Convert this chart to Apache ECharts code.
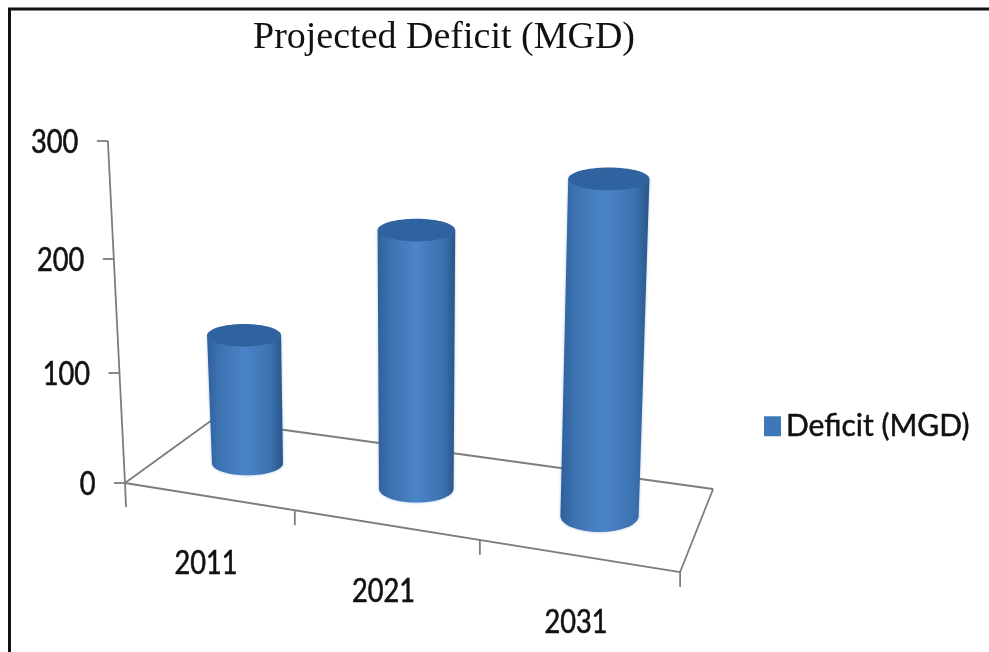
<!DOCTYPE html>
<html><head><meta charset="utf-8">
<style>html,body{margin:0;padding:0;background:#fff}#c{width:989px;height:652px}</style>
<script src="https://cdn.jsdelivr.net/npm/echarts@6/dist/echarts.min.js"></script>
</head><body><div id="c"></div>
<script>
const titleText = 'Projected Deficit (MGD)';
const seriesName = 'Deficit (MGD)';
const categories = ['2011', '2021', '2031'];
const deficit = [110, 205, 250];
const yTicks = [0, 100, 200, 300];

const sans = 'Lato,"Liberation Sans",sans-serif';
const AX = '#7d7d7d', INK = '#111';
const G = {left:125, top:141, width:555, height:342};
// Floor plane of the 3-D box on screen: front-left, front-right, back-left, back-right
const FL=[125,483], FR=[680,572], BL=[212,420], BR=[713,489];

function warp(flat, d, band){
  const u=(flat[0]-G.left)/band, t=0.2923*u+0.0137*u*u;
  const v=(G.top+G.height-flat[1])/G.height*300;
  const fx=FL[0]+(FR[0]-FL[0])*t, fy=FL[1]+(FR[1]-FL[1])*t;
  const bx=BL[0]+(BR[0]-BL[0])*t, by=BL[1]+(BR[1]-BL[1])*t;
  const k=1+2*d*(0.022+0.0685*u);
  const h=(1.08*v+0.0002*v*v)*k;
  const lean=-0.05+0.027*u+0.02*d;
  return [fx+(bx-fx)*d+lean*h, fy+(by-fy)*d-h];
}

function arc(cx,cy,rx,ry,a0,a1){
  const p=[];
  for(let i=0;i<=32;i++){const a=a0+(a1-a0)*i/32;p.push([cx+rx*Math.cos(a),cy+ry*Math.sin(a)]);}
  return p;
}

function label(text,x,y,align){
  return {type:'text',x:x,y:y,scaleX:0.85,
    style:{text:text,x:0,y:0,align:align,verticalAlign:'middle',font:'32px '+sans,fill:INK,stroke:INK,lineWidth:0.6}};
}

function renderFrame(params, api){
  const kind=api.value(0), val=api.value(1);
  const band=api.size([1,0])[0];
  const left=api.coord([0,0])[0]-band/2;
  const P=(u,d,v)=>warp([left+u*band, api.coord([0,v])[1]],d,band);
  const line=(a,b)=>({type:'line',shape:{x1:a[0],y1:a[1],x2:b[0],y2:b[1]},style:{stroke:AX,lineWidth:1.8}});
  const kids=[];
  if(kind===0){ // value tick and its label
    const p=P(0,0,val);
    kids.push(line([p[0]-11,p[1]],p));
    kids.push(label(String(val),p[0]-29.5,p[1]+2,'right'));
    if(val===0){
      const n=categories.length;
      kids.push(line(p,P(0,0,300)));
      kids.push(line(p,P(n,0,0)),line(p,P(0,1,0)),line(P(0,1,0),P(n,1,0)),line(P(n,1,0),P(n,0,0)));
      kids.push(line(p,[p[0]+1,p[1]+24]));
    }
  } else { // category tick and its label
    const t=P(val+1,0,0);
    kids.push(line(t,[t[0],t[1]+15]));
    const m=P(val+0.5,0,0);
    kids.push(label(categories[val],m[0]-2,m[1]+67,'center'));
  }
  return {type:'group',children:kids};
}

function renderCylinder(params, api){
  const idx=api.value(0), val=api.value(1);
  const band=api.size([1,0])[0];
  const u=idx+0.5;
  const b=warp(api.coord([idx,0]),0.5,band), t=warp(api.coord([idx,val]),0.5,band);
  const rb=34.6+1.8*u, rt=rb+1.5, ryb=11+2*u, ryt=11.3;
  // left edge, along the lower front of the base, right edge
  const base=arc(b[0],b[1],rb,ryb,Math.PI,0).map(p=>[p[0],b[1]+Math.abs(p[1]-b[1])]);
  const outline=[[t[0]-rt,t[1]]].concat(base,[[t[0]+rt,t[1]]]);
  const grad={type:'linear',x:0,y:0,x2:1,y2:0,colorStops:[
    {offset:0,color:'#2f5f9b'},{offset:0.14,color:'#3b71af'},{offset:0.5,color:'#4b85c8'},
    {offset:0.84,color:'#3b71af'},{offset:1,color:'#2a5688'}]};
  return {type:'group',children:[
    {type:'polygon',shape:{points:outline},style:{fill:grad,shadowBlur:3,shadowColor:'rgba(70,120,190,0.45)'}},
    {type:'ellipse',shape:{cx:t[0],cy:t[1],rx:rt,ry:ryt},style:{fill:'#2f639f'}}
  ]};
}

const frameData = yTicks.map(v=>[0,v]).concat(categories.map((c,i)=>[1,i]));
const cylData = deficit.map((v,i)=>[i,v]);

const chart=echarts.init(document.getElementById('c'),null,{renderer:'canvas'});
chart.setOption({
  animation:false,
  backgroundColor:'#fff',
  title:{text:titleText,left:253,top:19,padding:0,textStyle:{fontFamily:'"Liberation Serif",serif',fontSize:38,fontWeight:'normal',color:INK}},
  legend:{left:764,top:411,padding:0,icon:'rect',itemWidth:17,itemHeight:20,
    data:[seriesName],selectedMode:false,
    textStyle:{fontFamily:sans,fontSize:30,color:INK,textBorderColor:INK,textBorderWidth:0.5}},
  grid:G,
  xAxis:{type:'category',data:categories,show:false},
  yAxis:{type:'value',min:0,max:300,interval:100,show:false},
  graphic:[{type:'polyline',silent:true,z:-1,shape:{points:[[9.5,652],[9.5,9],[989,9]]},style:{fill:'none',stroke:'#111',lineWidth:3}}],
  series:[
    {type:'custom',name:'axes',coordinateSystem:'cartesian2d',renderItem:renderFrame,data:frameData,clip:false,silent:true,z:1,
     encode:{x:-1,y:-1}},
    {type:'custom',name:seriesName,coordinateSystem:'cartesian2d',renderItem:renderCylinder,data:cylData,clip:false,z:2,
     itemStyle:{color:'#3f78b8'},encode:{x:0,y:1}}
  ]
});
</script></body></html>
